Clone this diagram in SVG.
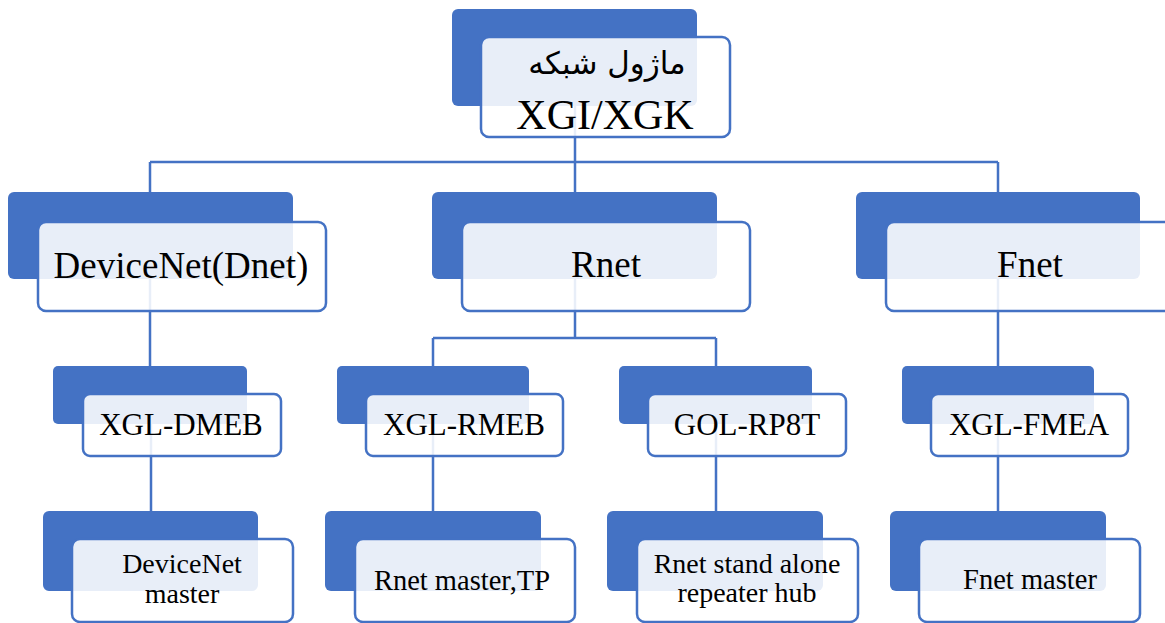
<svg xmlns="http://www.w3.org/2000/svg" width="1165" height="623" viewBox="0 0 1165 623">
<style>
.bk{fill:#4472C4;}
.fr{fill:#fff;fill-opacity:0.88;stroke:#4472C4;stroke-width:2.5;}
.cn{fill:none;stroke:#4472C4;stroke-width:2.5;}
text{font-family:"Liberation Serif","Times New Roman","DejaVu Serif",serif;fill:#000;text-anchor:middle;}
text.fa{font-family:"DejaVu Sans","Noto Sans",sans-serif;}
</style>
<rect width="1165" height="623" fill="#fff"/>
<g id="connectors">
<path class="cn" d="M575,60 V162 M150,162 H998 M150,162 V192 M575,162 V192 M998,162 V192"/>
<path class="cn" d="M150,236 V366 M998,236 V366"/>
<path class="cn" d="M575,236 V338 M433,338 H716 M433,338 V366 M716,338 V366"/>
<path class="cn" d="M151,395 V511 M433,395 V511 M716,395 V511 M998,395 V511"/>
</g>
<g id="n-root">
<rect class="bk" x="452" y="9" width="245" height="97" rx="6"/>
<rect class="fr" x="481" y="37" width="249" height="100" rx="8"/>
<text class="fa" x="607" y="74" font-size="31" direction="rtl">ماژول شبکه</text>
<text x="605" y="129" font-size="42">XGI/XGK</text>
</g>
<g id="n-dnet">
<rect class="bk" x="8" y="192" width="285" height="87" rx="6"/>
<rect class="fr" x="38" y="222" width="288" height="89" rx="8"/>
<text x="181" y="278" font-size="37">DeviceNet(Dnet)</text>
</g>
<g id="n-rnet">
<rect class="bk" x="432" y="192" width="285" height="87" rx="6"/>
<rect class="fr" x="462" y="222" width="288" height="89" rx="8"/>
<text x="606" y="277" font-size="37">Rnet</text>
</g>
<g id="n-fnet">
<rect class="bk" x="856" y="192" width="284" height="87" rx="6"/>
<rect class="fr" x="886" y="222" width="289" height="89" rx="8"/>
<text x="1030" y="277" font-size="37">Fnet</text>
</g>
<g id="n-dmeb">
<rect class="bk" x="53" y="366" width="194" height="58" rx="5"/>
<rect class="fr" x="83" y="394" width="198" height="62" rx="7"/>
<text x="181" y="435" font-size="31">XGL-DMEB</text>
</g>
<g id="n-rmeb">
<rect class="bk" x="337" y="366" width="192" height="58" rx="5"/>
<rect class="fr" x="366" y="394" width="197" height="62" rx="7"/>
<text x="464" y="435" font-size="31">XGL-RMEB</text>
</g>
<g id="n-rp8t">
<rect class="bk" x="619" y="366" width="193" height="58" rx="5"/>
<rect class="fr" x="648" y="394" width="198" height="62" rx="7"/>
<text x="747" y="435" font-size="31">GOL-RP8T</text>
</g>
<g id="n-fmea">
<rect class="bk" x="902" y="366" width="192" height="58" rx="5"/>
<rect class="fr" x="931" y="394" width="197" height="62" rx="7"/>
<text x="1029" y="435" font-size="31">XGL-FMEA</text>
</g>
<g id="n-dnm">
<rect class="bk" x="43" y="511" width="215" height="80" rx="6"/>
<rect class="fr" x="72" y="539" width="221" height="83" rx="8"/>
<text x="182" y="573" font-size="28">DeviceNet</text>
<text x="182" y="603" font-size="28">master</text>
</g>
<g id="n-rnm">
<rect class="bk" x="325" y="511" width="216" height="80" rx="6"/>
<rect class="fr" x="355" y="539" width="220" height="83" rx="8"/>
<text x="462" y="590" font-size="28.5">Rnet master,TP</text>
</g>
<g id="n-hub">
<rect class="bk" x="607" y="511" width="216" height="80" rx="6"/>
<rect class="fr" x="637" y="539" width="221" height="83" rx="8"/>
<text x="747" y="573" font-size="28">Rnet stand alone</text>
<text x="747" y="602" font-size="28">repeater hub</text>
</g>
<g id="n-fnm">
<rect class="bk" x="890" y="511" width="216" height="80" rx="6"/>
<rect class="fr" x="919" y="539" width="221" height="83" rx="8"/>
<text x="1030" y="589" font-size="28.5">Fnet master</text>
</g>
</svg>
